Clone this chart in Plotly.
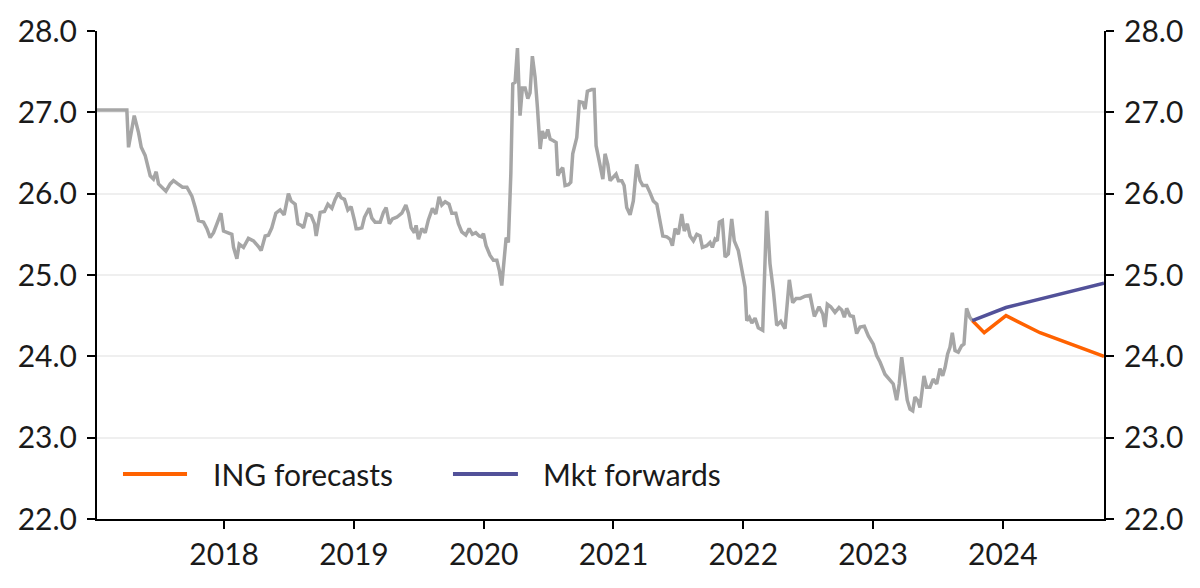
import plotly.graph_objects as go

# Observed EUR/CZK (decimal year, level)
obs_t = [2017.02, 2017.250, 2017.263, 2017.307, 2017.340, 2017.361, 2017.391, 2017.430, 2017.455, 2017.476,
         2017.494, 2017.520, 2017.551, 2017.584, 2017.609, 2017.643, 2017.679, 2017.713, 2017.751, 2017.777,
         2017.802, 2017.841, 2017.867, 2017.892, 2017.918, 2017.944, 2017.975, 2017.995, 2018.029, 2018.059,
         2018.072, 2018.098, 2018.116, 2018.149, 2018.187, 2018.226, 2018.264, 2018.285, 2018.316, 2018.341,
         2018.367, 2018.398, 2018.431, 2018.462, 2018.495, 2018.516, 2018.547, 2018.568, 2018.593, 2018.611,
         2018.637, 2018.670, 2018.696, 2018.709, 2018.740, 2018.773, 2018.799, 2018.830, 2018.855, 2018.881,
         2018.901, 2018.927, 2018.953, 2018.978, 2019.004, 2019.017, 2019.035, 2019.061, 2019.081, 2019.117,
         2019.138, 2019.163, 2019.202, 2019.227, 2019.248, 2019.273, 2019.297, 2019.330, 2019.369, 2019.400,
         2019.420, 2019.441, 2019.466, 2019.479, 2019.497, 2019.523, 2019.549, 2019.574, 2019.605, 2019.631,
         2019.656, 2019.677, 2019.703, 2019.733, 2019.754, 2019.785, 2019.805, 2019.831, 2019.862, 2019.888,
         2019.913, 2019.939, 2019.965, 2019.985, 2019.998, 2020.018, 2020.049, 2020.075, 2020.101, 2020.121,
         2020.139, 2020.157, 2020.173, 2020.190, 2020.209, 2020.224, 2020.242, 2020.260, 2020.280, 2020.298,
         2020.319, 2020.340, 2020.357, 2020.375, 2020.396, 2020.414, 2020.435, 2020.452, 2020.473, 2020.494,
         2020.512, 2020.537, 2020.558, 2020.571, 2020.589, 2020.609, 2020.627, 2020.653, 2020.671, 2020.686,
         2020.717, 2020.737, 2020.763, 2020.781, 2020.799, 2020.833, 2020.851, 2020.866, 2020.891, 2020.918,
         2020.935, 2020.956, 2020.974, 2020.999, 2021.020, 2021.038, 2021.064, 2021.082, 2021.102, 2021.128,
         2021.153, 2021.179, 2021.205, 2021.226, 2021.256, 2021.282, 2021.307, 2021.334, 2021.359, 2021.380,
         2021.411, 2021.436, 2021.454, 2021.475, 2021.500, 2021.526, 2021.546, 2021.569, 2021.590, 2021.616,
         2021.642, 2021.667, 2021.685, 2021.719, 2021.744, 2021.762, 2021.783, 2021.800, 2021.816, 2021.839,
         2021.860, 2021.885, 2021.911, 2021.931, 2021.962, 2021.988, 2022.014, 2022.027, 2022.047, 2022.066,
         2022.091, 2022.116, 2022.150, 2022.181, 2022.206, 2022.232, 2022.258, 2022.289, 2022.322, 2022.355,
         2022.381, 2022.407, 2022.438, 2022.476, 2022.515, 2022.548, 2022.584, 2022.613, 2022.630, 2022.648,
         2022.674, 2022.707, 2022.738, 2022.759, 2022.779, 2022.797, 2022.823, 2022.848, 2022.874, 2022.900,
         2022.933, 2022.964, 2023.002, 2023.028, 2023.054, 2023.092, 2023.131, 2023.156, 2023.182, 2023.202,
         2023.221, 2023.241, 2023.264, 2023.285, 2023.306, 2023.323, 2023.344, 2023.362, 2023.393, 2023.413,
         2023.439, 2023.464, 2023.491, 2023.516, 2023.537, 2023.555, 2023.575, 2023.593, 2023.611, 2023.632,
         2023.657, 2023.683, 2023.701, 2023.721, 2023.746, 2023.765]
obs_v = [27.03, 27.03, 26.57, 26.96, 26.75, 26.57, 26.47, 26.22, 26.18, 26.27,
         26.12, 26.08, 26.03, 26.12, 26.16, 26.12, 26.08, 26.08, 25.97, 25.83,
         25.67, 25.65, 25.57, 25.46, 25.52, 25.63, 25.76, 25.54, 25.52, 25.50,
         25.34, 25.20, 25.38, 25.34, 25.45, 25.42, 25.35, 25.30, 25.48, 25.49,
         25.58, 25.76, 25.80, 25.74, 26.00, 25.91, 25.87, 25.63, 25.61, 25.58,
         25.75, 25.73, 25.63, 25.48, 25.77, 25.78, 25.87, 25.82, 25.93, 26.01,
         25.95, 25.93, 25.80, 25.84, 25.67, 25.57, 25.57, 25.58, 25.71, 25.82,
         25.70, 25.65, 25.65, 25.77, 25.83, 25.63, 25.69, 25.71, 25.76, 25.86,
         25.76, 25.58, 25.52, 25.61, 25.44, 25.57, 25.52, 25.68, 25.82, 25.75,
         25.96, 25.86, 25.90, 25.87, 25.76, 25.76, 25.63, 25.53, 25.49, 25.57,
         25.50, 25.52, 25.48, 25.47, 25.51, 25.36, 25.24, 25.18, 25.18, 25.05,
         24.87, 25.14, 25.46, 25.40, 26.24, 27.35, 27.37, 27.79, 26.96, 27.30,
         27.30, 27.17, 27.24, 27.69, 27.43, 27.06, 26.55, 26.77, 26.68, 26.79,
         26.67, 26.65, 26.63, 26.22, 26.28, 26.32, 26.10, 26.11, 26.14, 26.49,
         26.69, 27.13, 27.12, 27.04, 27.26, 27.28, 27.28, 26.59, 26.38, 26.18,
         26.49, 26.36, 26.16, 26.20, 26.24, 26.16, 26.16, 26.10, 25.83, 25.74,
         25.91, 26.36, 26.16, 26.10, 26.10, 26.01, 25.91, 25.87, 25.67, 25.48,
         25.47, 25.44, 25.36, 25.57, 25.50, 25.75, 25.54, 25.63, 25.48, 25.42,
         25.50, 25.48, 25.34, 25.36, 25.40, 25.34, 25.44, 25.42, 25.65, 25.67,
         25.22, 25.26, 25.69, 25.42, 25.30, 25.09, 24.85, 24.44, 24.48, 24.41,
         24.47, 24.35, 24.32, 25.79, 25.14, 24.81, 24.38, 24.43, 24.34, 24.94,
         24.66, 24.71, 24.71, 24.74, 24.75, 24.49, 24.61, 24.52, 24.36, 24.64,
         24.61, 24.54, 24.60, 24.57, 24.48, 24.59, 24.50, 24.49, 24.28, 24.36,
         24.37, 24.25, 24.15, 24.01, 23.93, 23.78, 23.70, 23.66, 23.46, 23.66,
         23.99, 23.70, 23.46, 23.35, 23.33, 23.50, 23.46, 23.37, 23.76, 23.62,
         23.62, 23.72, 23.66, 23.85, 23.76, 23.86, 24.03, 24.11, 24.29, 24.07,
         24.05, 24.13, 24.15, 24.59, 24.48, 24.44]

# ING forecasts
ing_t = [2023.765, 2023.857, 2024.025, 2024.287, 2024.780]
ing_v = [24.44, 24.29, 24.50, 24.29, 24.00]

# Market forwards
mkt_t = [2023.765, 2024.025, 2024.780]
mkt_v = [24.44, 24.60, 24.90]

year_ticks = [2018, 2019, 2020, 2021, 2022, 2023, 2024]
year_labels = [str(y) for y in year_ticks]
y_ticks = [22, 23, 24, 25, 26, 27, 28]
y_labels = ["%.1f" % v for v in y_ticks]

FONT = "Lato"
TXT = "#1a1a1a"
FS = 30
GREY, ORANGE, PURPLE = "#a6a6a6", "#ff6200", "#525199"

fig = go.Figure()
fig.add_trace(go.Scatter(x=obs_t, y=obs_v, mode="lines", name="EUR/CZK",
                         line=dict(color=GREY, width=3.5), showlegend=False))
fig.add_trace(go.Scatter(x=ing_t, y=ing_v, mode="lines", name="ING forecasts",
                         line=dict(color=ORANGE, width=3.5), showlegend=False))
fig.add_trace(go.Scatter(x=mkt_t, y=mkt_v, mode="lines", name="Mkt forwards",
                         line=dict(color=PURPLE, width=3.5), yaxis="y2", showlegend=False))

axis_common = dict(range=[22, 28], tickvals=y_ticks, ticktext=y_labels,
                   showline=True, linecolor="black", linewidth=2,
                   ticks="outside", ticklen=8, tickcolor="black", tickwidth=2,
                   ticklabelstandoff=4, automargin=False,
                   tickfont=dict(family=FONT, size=FS, color=TXT), zeroline=False)

# Legend drawn inside plot (paper coords): sample line + label for each forecast series
legend_items = [("ING forecasts", ORANGE, 0.0258, 0.0894, 0.1132),
                ("Mkt forwards", PURPLE, 0.3535, 0.4180, 0.4409)]
leg_y = 0.092
shapes, annotations = [], []
for name, col, x0, x1, xt in legend_items:
    shapes.append(dict(type="line", xref="paper", yref="paper", x0=x0, x1=x1, y0=leg_y, y1=leg_y,
                       line=dict(color=col, width=4)))
    annotations.append(dict(text=name, xref="paper", yref="paper", x=xt, y=leg_y,
                            xanchor="left", yanchor="middle", showarrow=False,
                            font=dict(family=FONT, size=FS, color=TXT)))

fig.update_layout(
    width=1200, height=588,
    margin=dict(l=89, r=104, t=23, b=77),
    paper_bgcolor="white", plot_bgcolor="white",
    font=dict(family=FONT, size=FS, color=TXT),
    xaxis=dict(range=[2017.02, 2024.78], tickvals=year_ticks, ticktext=year_labels,
               showline=True, linecolor="black", linewidth=2,
               ticks="outside", ticklen=8, tickcolor="black", tickwidth=2,
               showgrid=False, zeroline=False, automargin=False,
               tickfont=dict(family=FONT, size=FS, color=TXT)),
    yaxis=dict(side="left", showgrid=True, gridcolor="#efefef", gridwidth=2, **axis_common),
    yaxis2=dict(side="right", overlaying="y", showgrid=False, **axis_common),
    shapes=shapes, annotations=annotations,
    showlegend=False,
)

fig.write_html("out.html")
